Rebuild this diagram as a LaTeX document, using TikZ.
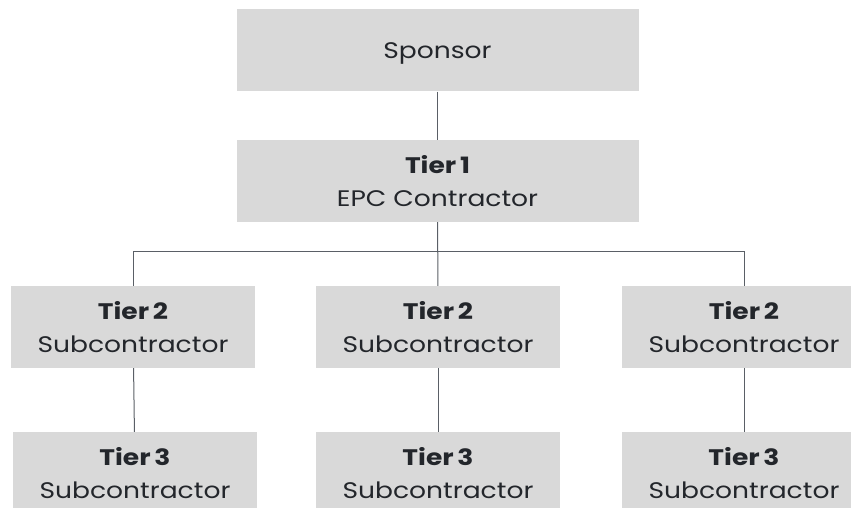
\documentclass[tikz,border=0pt]{standalone}
\usepackage{fontspec}
\setmainfont[FakeStretch=1.18]{Poppins}
\usepackage{tikz}
\definecolor{boxgray}{HTML}{D9D9D9}
\definecolor{txt}{HTML}{23262B}
\definecolor{wire}{HTML}{5A5F66}
\tikzset{
  box/.style={fill=boxgray, draw=none, rectangle, align=center, text=txt, inner sep=0pt,
    font=\fontsize{22.5}{33}\selectfont},
  wide/.style={box, minimum width=402pt, minimum height=82pt},
  narrow/.style={box, minimum width=244pt, minimum height=82pt},
  link/.style={draw=wire, line width=1pt}
}
\begin{document}
\begin{tikzpicture}[x=1pt,y=-1pt]
\useasboundingbox (0,0) rectangle (851,508);
\node[wide, text depth=0pt] (S) at (437.5,50.5) {Sponsor};
\node[wide] (T1) at (437.5,181) {\textbf{Tier\,1}\\EPC Contractor};
\node[narrow] (T2a) at (133,327) {\textbf{Tier\,2}\\Subcontractor};
\node[narrow] (T2b) at (438,327) {\textbf{Tier\,2}\\Subcontractor};
\node[narrow] (T2c) at (744,327) {\textbf{Tier\,2}\\Subcontractor};
\node[narrow] (T3a) at (135,473) {\textbf{Tier\,3}\\Subcontractor};
\node[narrow] (T3b) at (438,473) {\textbf{Tier\,3}\\Subcontractor};
\node[narrow] (T3c) at (744,473) {\textbf{Tier\,3}\\Subcontractor};
\coordinate (bus) at (437.5,251);
\draw[link] (S) -- (T1);
\draw[link] (T1) -- (T2b);
\draw[link] (T2a.north) -- (T2a.north |- bus) -- (T2c.north |- bus) -- (T2c.north);
\draw[link] (T2a) -- (T3a);
\draw[link] (T2b) -- (T3b);
\draw[link] (T2c) -- (T3c);
\end{tikzpicture}
\end{document}
